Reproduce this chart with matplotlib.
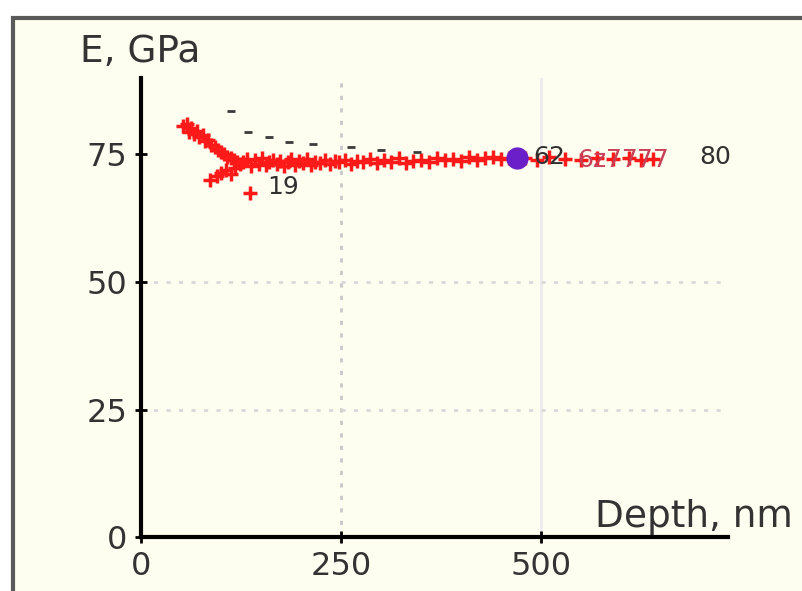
import numpy as np
import matplotlib.pyplot as plt
from matplotlib.patches import Rectangle

# measured points, depth in nm and modulus in GPa
depth = [52, 57, 60, 63, 66, 70, 73, 77, 80, 84, 88, 92, 96, 100, 104, 108, 112, 116, 120, 124,
         86, 95, 100, 106, 112, 118, 136,
         128, 133, 138, 142, 147, 151, 156, 160, 165, 170, 174, 179, 184, 188, 193, 198, 203, 208,
         213, 218, 224, 230, 236, 242, 248, 255, 262, 270, 278, 286, 295, 304, 313, 322, 331, 340,
         350, 360, 370, 380, 390, 400, 410, 420, 430, 440, 450, 460, 480, 495, 510, 530, 550, 570,
         590, 610, 625, 640]
modulus = [80.5, 81.0, 79.5, 80.2, 79.0, 79.6, 78.4, 78.9, 77.6, 77.9, 76.8, 76.4, 75.9, 75.5, 75.1, 74.6, 74.4, 73.9, 73.6, 73.2,
           70.0, 70.8, 71.4, 72.0, 71.2, 72.3, 67.5,
           73.5, 74.2, 72.8, 73.9, 73.1, 74.4, 72.9, 73.6, 74.0, 73.2, 73.8, 72.7, 73.5, 74.1, 73.0, 73.7, 73.3, 74.2,
           72.9, 73.6, 73.4, 73.9, 73.1, 73.8, 73.5, 74.0, 73.2, 73.7, 73.6, 74.1, 73.3, 73.9, 73.5, 74.3, 73.4, 73.8,
           74.0, 73.6, 74.4, 73.9, 74.2, 73.7, 74.5, 74.0, 74.3, 74.6, 74.1, 74.4, 74.3, 74.0, 74.5, 74.2, 74.0, 74.4,
           74.1, 74.3, 74.0, 74.2]

# selected point
sel_depth = 470
sel_modulus = 74.3

# small point labels
lab_text = ["19", "62", "80"]
lab_x = [158, 490, 698]
lab_y = [68.6, 74.6, 74.6]
red_lab_text = ["6z", "77", "77"]
red_lab_x = [545, 582, 620]
red_lab_y = [74.0, 74.0, 74.0]
dash_x = [113, 134, 160, 185, 215, 262, 300, 345]
dash_y = [83.5, 79.5, 78.5, 77.5, 77.0, 76.5, 75.8, 75.5]

fig = plt.figure(figsize=(8.03, 5.91), dpi=100)
fig.patch.set_facecolor('white')
fig.patches.append(Rectangle((13 / 803, -0.05), 1.0, 1 - 18 / 591 + 0.05, transform=fig.transFigure,
                             facecolor='#fefef0', edgecolor='#5a5a5a', linewidth=3, zorder=-10))

ax = fig.add_axes([141 / 803, 54 / 591, 587 / 803, 459 / 591])
ax.set_facecolor('none')
ax.set_xlim(0, 734)
ax.set_ylim(0, 90)

for s in ['top', 'right']:
    ax.spines[s].set_visible(False)
for s in ['left', 'bottom']:
    ax.spines[s].set_linewidth(3)
    ax.spines[s].set_color('black')

ax.set_xticks([0, 250, 500])
ax.set_yticks([0, 25, 50, 75])
ax.tick_params(direction='inout', length=8, width=2, labelsize=23, colors='black',
               labelcolor='#333333', pad=6)
for lbl in ax.get_xticklabels() + ax.get_yticklabels():
    lbl.set_family('DejaVu Sans')

# grid
ax.axvline(250, color='#c8c8c8', linestyle=(0, (1.5, 3)), linewidth=2, zorder=1)
ax.axvline(500, color='#ececec', linestyle='-', linewidth=2, zorder=1)
for gy in [25, 50]:
    ax.plot([0, 730], [gy, gy], color='#d8d8d8', linestyle=(0, (1.5, 3)), linewidth=2, zorder=1)

ax.plot(depth, modulus, '+', color='#ff1a1a', markersize=10, markeredgewidth=2.5, zorder=3)
ax.plot(dash_x, dash_y, '_', color='#3a3a3a', markersize=6, markeredgewidth=2, zorder=3)
ax.plot(sel_depth, sel_modulus, 'o', color='#6a1fc8', markersize=15, zorder=4)

for t, x, y in zip(lab_text, lab_x, lab_y):
    ax.text(x, y, t, fontsize=18, color='#303030', va='center', ha='left', zorder=5)
for t, x, y in zip(red_lab_text, red_lab_x, red_lab_y):
    ax.text(x, y, t, fontsize=18, color='#c84058', va='center', ha='left', zorder=5)

fig.text(80 / 803, 1 - 62 / 591, 'E, GPa', fontsize=27, color='#333333', va='baseline', ha='left')
fig.text(793 / 803, 1 - 527 / 591, 'Depth, nm', fontsize=27, color='#333333', va='baseline', ha='right')

fig.savefig('out.png', dpi=100)
